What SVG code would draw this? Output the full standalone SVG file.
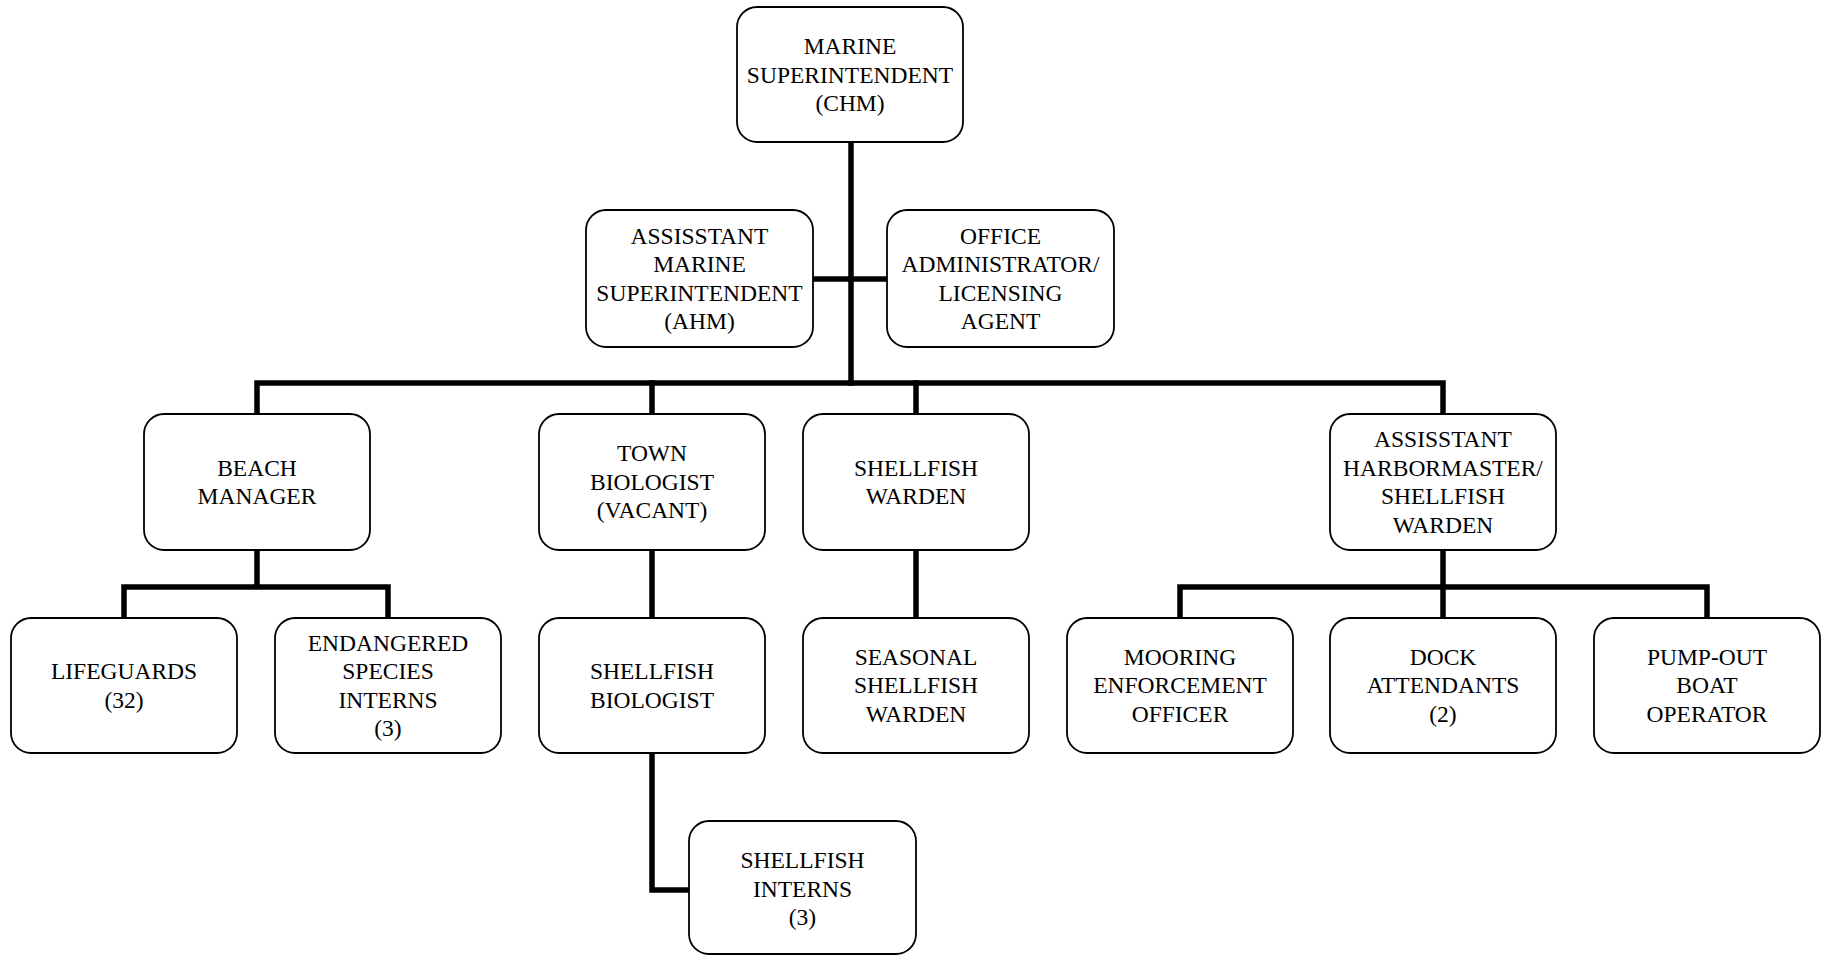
<svg xmlns="http://www.w3.org/2000/svg" width="1822" height="955" viewBox="0 0 1822 955">
<style>
.b{fill:#fff;stroke:#000;stroke-width:1.8}
.t{font-family:"Liberation Serif","Times New Roman",serif;font-size:23.5px;text-anchor:middle;fill:#000}
.c{fill:none;stroke:#000;stroke-width:5.5;stroke-linecap:square;stroke-linejoin:miter}
</style>
<rect width="1822" height="955" fill="#fff"/>
<g id="connectors">
<path class="c" d="M851 142V383"/>
<path class="c" d="M813 279H887"/>
<path class="c" d="M257 414V383H1443V414"/>
<path class="c" d="M652 383V414M916 383V414"/>
<path class="c" d="M257 550V587M124 618V587H388V618"/>
<path class="c" d="M652 550V618M652 753V890H689"/>
<path class="c" d="M916 550V618"/>
<path class="c" d="M1443 550V618M1180 618V587H1707V618"/>
</g>
<g id="n_top"><rect class="b" x="737" y="7" width="226" height="135" rx="20"/>
<text class="t"><tspan x="850" y="54">MARINE</tspan><tspan x="850" y="82.5">SUPERINTENDENT</tspan><tspan x="850" y="111">(CHM)</tspan></text></g>
<g id="n_asst"><rect class="b" x="586" y="210" width="227" height="137" rx="20"/>
<text class="t"><tspan x="699.5" y="243.6">ASSISSTANT</tspan><tspan x="699.5" y="272.1">MARINE</tspan><tspan x="699.5" y="300.6">SUPERINTENDENT</tspan><tspan x="699.5" y="329.1">(AHM)</tspan></text></g>
<g id="n_office"><rect class="b" x="887" y="210" width="227" height="137" rx="20"/>
<text class="t"><tspan x="1000.5" y="243.6">OFFICE</tspan><tspan x="1000.5" y="272.1">ADMINISTRATOR/</tspan><tspan x="1000.5" y="300.6">LICENSING</tspan><tspan x="1000.5" y="329.1">AGENT</tspan></text></g>
<g id="n_beach"><rect class="b" x="144" y="414" width="226" height="136" rx="20"/>
<text class="t"><tspan x="257" y="475.6">BEACH</tspan><tspan x="257" y="504.1">MANAGER</tspan></text></g>
<g id="n_town"><rect class="b" x="539" y="414" width="226" height="136" rx="20"/>
<text class="t"><tspan x="652" y="461.3">TOWN</tspan><tspan x="652" y="489.8">BIOLOGIST</tspan><tspan x="652" y="518.3">(VACANT)</tspan></text></g>
<g id="n_warden"><rect class="b" x="803" y="414" width="226" height="136" rx="20"/>
<text class="t"><tspan x="916" y="475.6">SHELLFISH</tspan><tspan x="916" y="504.1">WARDEN</tspan></text></g>
<g id="n_harbor"><rect class="b" x="1330" y="414" width="226" height="136" rx="20"/>
<text class="t"><tspan x="1443" y="447">ASSISSTANT</tspan><tspan x="1443" y="475.5">HARBORMASTER/</tspan><tspan x="1443" y="504">SHELLFISH</tspan><tspan x="1443" y="532.5">WARDEN</tspan></text></g>
<g id="n_life"><rect class="b" x="11" y="618" width="226" height="135" rx="20"/>
<text class="t"><tspan x="124" y="679">LIFEGUARDS</tspan><tspan x="124" y="707.5">(32)</tspan></text></g>
<g id="n_endangered"><rect class="b" x="275" y="618" width="226" height="135" rx="20"/>
<text class="t"><tspan x="388" y="650.5">ENDANGERED</tspan><tspan x="388" y="679">SPECIES</tspan><tspan x="388" y="707.5">INTERNS</tspan><tspan x="388" y="736">(3)</tspan></text></g>
<g id="n_shellbio"><rect class="b" x="539" y="618" width="226" height="135" rx="20"/>
<text class="t"><tspan x="652" y="679">SHELLFISH</tspan><tspan x="652" y="707.5">BIOLOGIST</tspan></text></g>
<g id="n_seasonal"><rect class="b" x="803" y="618" width="226" height="135" rx="20"/>
<text class="t"><tspan x="916" y="664.8">SEASONAL</tspan><tspan x="916" y="693.3">SHELLFISH</tspan><tspan x="916" y="721.8">WARDEN</tspan></text></g>
<g id="n_mooring"><rect class="b" x="1067" y="618" width="226" height="135" rx="20"/>
<text class="t"><tspan x="1180" y="664.8">MOORING</tspan><tspan x="1180" y="693.3">ENFORCEMENT</tspan><tspan x="1180" y="721.8">OFFICER</tspan></text></g>
<g id="n_dock"><rect class="b" x="1330" y="618" width="226" height="135" rx="20"/>
<text class="t"><tspan x="1443" y="664.8">DOCK</tspan><tspan x="1443" y="693.3">ATTENDANTS</tspan><tspan x="1443" y="721.8">(2)</tspan></text></g>
<g id="n_pump"><rect class="b" x="1594" y="618" width="226" height="135" rx="20"/>
<text class="t"><tspan x="1707" y="664.8">PUMP-OUT</tspan><tspan x="1707" y="693.3">BOAT</tspan><tspan x="1707" y="721.8">OPERATOR</tspan></text></g>
<g id="n_interns"><rect class="b" x="689" y="821" width="227" height="133" rx="20"/>
<text class="t"><tspan x="802.5" y="868">SHELLFISH</tspan><tspan x="802.5" y="896.5">INTERNS</tspan><tspan x="802.5" y="925">(3)</tspan></text></g>
</svg>
